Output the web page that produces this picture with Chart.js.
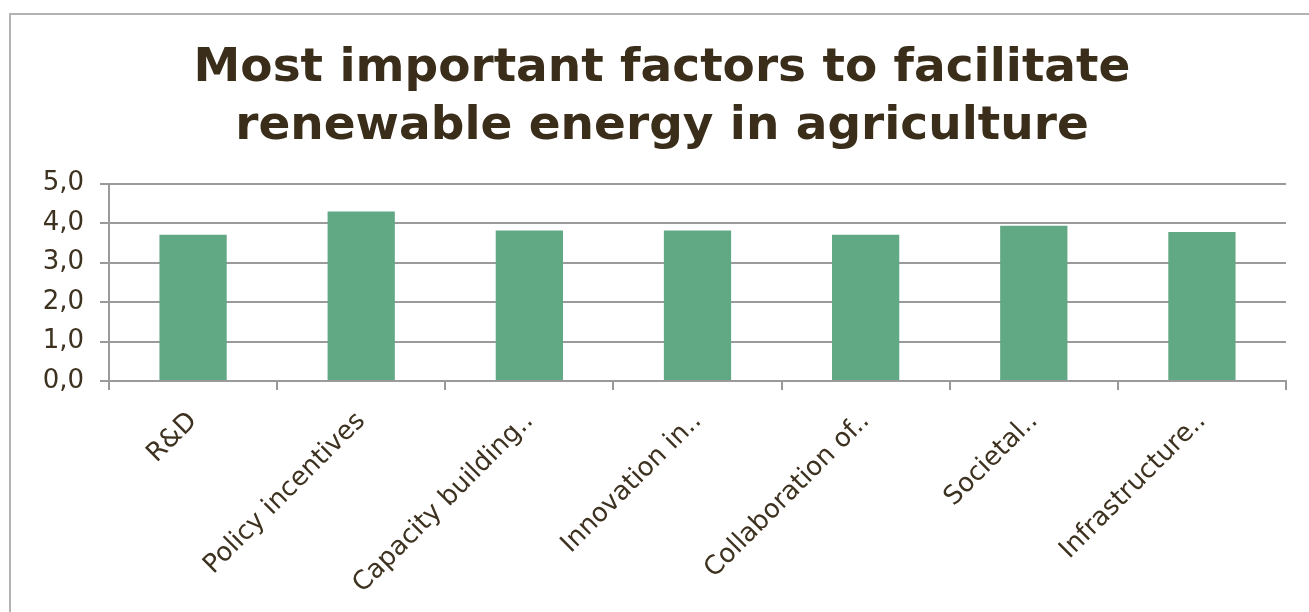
<!DOCTYPE html>
<html>
<head>
<meta charset="utf-8">
<script src="https://cdn.jsdelivr.net/npm/chart.js@4"></script>
<style>
  html, body { margin: 0; padding: 0; background: #fff; overflow: hidden; }
  #box { position: absolute; left: 9px; top: 13px; width: 1310px; height: 610px; border: 2px solid #b3b3b3; }
  #wrap { position: absolute; left: 0; top: 0; width: 1306px; height: 597px; }
</style>
</head>
<body>
<div id="box"><div id="wrap"><canvas id="chart"></canvas></div></div>
<script>
const labels = ['R&D', 'Policy incentives', 'Capacity building..', 'Innovation in..', 'Collaboration of..', 'Societal..', 'Infrastructure..'];
const values = [3.70, 4.29, 3.81, 3.81, 3.70, 3.93, 3.77];
const yTicks = [0, 1, 2, 3, 4, 5];

const textColor = '#3d311f';
const gridColor = '#9a9a9a';

new Chart(document.getElementById('chart').getContext('2d'), {
    type: 'bar',
    data: {
        labels: labels,
        datasets: [{
            data: values,
            backgroundColor: '#61a884',
            borderWidth: 0,
            categoryPercentage: 1.0,
            barPercentage: 0.4
        }]
    },
    options: {
        responsive: true,
        maintainAspectRatio: false,
        animation: false,
        layout: {
            // left/right padding chosen so the title centres like the original
            padding: {left: 27, right: 31, top: 0, bottom: 0}
        },
        plugins: {
            legend: {display: false},
            tooltip: {enabled: false},
            title: {
                display: true,
                text: ['Most important factors to facilitate', 'renewable energy in agriculture'],
                color: '#3a2d1a',
                font: {family: 'DejaVu Sans', size: 47, weight: 'bold', lineHeight: 1.25},
                padding: {top: 24, bottom: 27}
            }
        },
        scales: {
            x: {
                grid: {
                    offset: true,
                    drawOnChartArea: false,
                    drawTicks: true,
                    tickLength: 9,
                    color: gridColor,
                    lineWidth: 2
                },
                border: {color: gridColor, width: 2},
                ticks: {
                    color: textColor,
                    font: {family: 'DejaVu Sans', size: 26},
                    maxRotation: 45,
                    minRotation: 45,
                    padding: 16
                },
                afterFit: function (scale) { scale.height = 231; }
            },
            y: {
                min: 0,
                max: 5,
                afterBuildTicks: function (scale) {
                    scale.ticks = yTicks.map(v => ({value: v}));
                },
                grid: {
                    color: gridColor,
                    lineWidth: 2,
                    tickLength: 9
                },
                border: {color: gridColor, width: 2},
                ticks: {
                    color: textColor,
                    font: {family: 'DejaVu Sans', size: 26},
                    padding: 16,
                    callback: v => v.toFixed(1).replace('.', ',')
                },
                afterFit: function (scale) { scale.width = 71; }
            }
        }
    }
});
</script>
</body>
</html>
